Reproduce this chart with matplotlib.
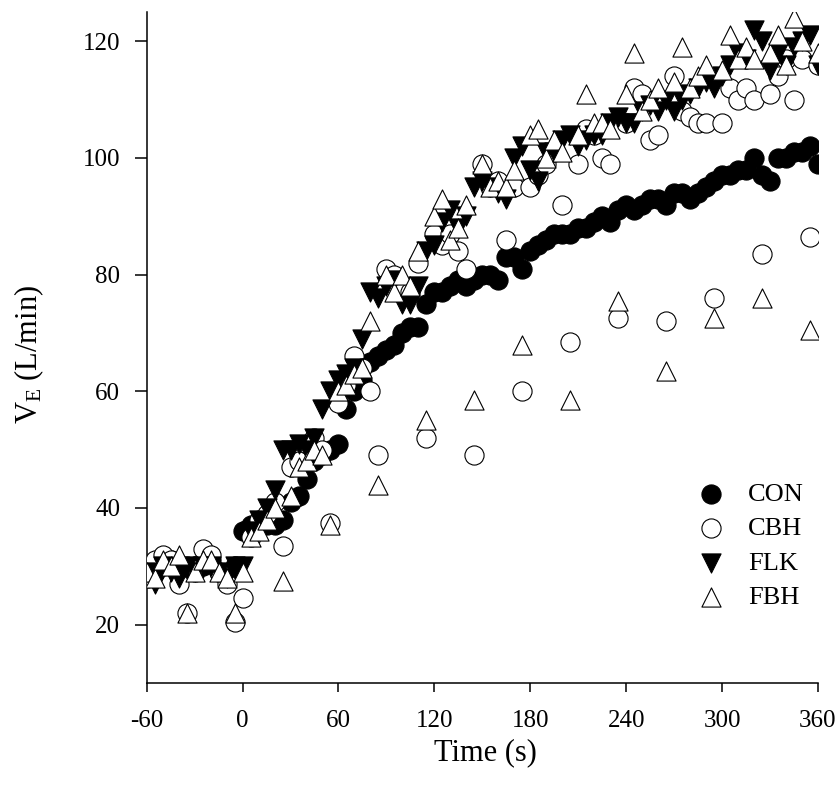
import numpy as np
import matplotlib
matplotlib.use("Agg")
import matplotlib.pyplot as plt

plt.rcParams.update({
    "font.family": "serif",
    "font.serif": ["Liberation Serif", "DejaVu Serif"],
    "mathtext.fontset": "custom",
    "mathtext.rm": "Liberation Serif",
    "mathtext.it": "Liberation Serif:italic",
    "axes.unicode_minus": False,
})

# time (s), sampled every 5 s from -60 to 360
time_s = np.arange(-60, 365, 5)

con = [30, 29, 30, 31, 29, 30, 29, 30, 31, 29, 28, 30,
       36, 37, 37, 37, 37, 38, 41, 42, 45, 48, 49, 50,
       51, 57, 60, 62, 65, 66, 67, 68, 70, 71, 71, 75,
       77, 77, 78, 79, 78, 79, 80, 80, 79, 83, 83, 81,
       84, 85, 86, 87, 87, 87, 88, 88, 89, 90, 89, 91,
       92, 91, 92, 93, 93, 92, 94, 94, 93, 94, 95, 96,
       97, 97, 98, 98, 100, 97, 96, 100, 100, 101, 101, 102,
       99]

cbh = [28, 31, 32, 31, 27, 22, 30, 33, 32, 29, 27, 20.5,
       24.5, 35, 38, 39, 41, 33.5, 47, 48, 51, 52, 50, 37.5,
       58, 61, 66, 64, 60, 49, 81, 80, 78, 77, 82, 52,
       87, 85, 87, 84, 81, 49, 99, 95, 96, 86, 95, 60,
       95, 97, 99, 101, 92, 68.5, 99, 105, 104, 100, 99, 72.5,
       106, 112, 111, 103, 104, 72, 114, 108, 107, 106, 106, 76,
       106, 112, 110, 112, 110, 83.5, 111, 114, 117, 110, 117, 86.5,
       116]

flk = [29, 27, 30, 29, 28, 30, 29, 30, 30, 29, 28, 30,
       30, 36, 38, 40, 43, 50, 50, 51, 50, 52, 57, 60,
       62, 63, 64, 69, 77, 76, 78, 79, 75, 75, 78, 84,
       85, 89, 91, 88, 90, 95, 96, 95, 94, 93, 100, 102,
       98, 96, 101, 101, 103, 104, 102, 103, 104, 104, 106, 107,
       106, 106, 108, 109, 108, 110, 108, 110, 111, 112, 113, 112,
       114, 116, 118, 117, 122, 120, 115, 118, 116, 119, 120, 121,
       116]

fbh = [29, 28, 31, 30, 32, 22, 29, 31, 31, 29, 28, 22,
       29, 35, 36, 38, 40, 27.5, 42, 47, 48, 50, 49, 37,
       60, 61, 63, 64, 72, 44, 80, 77, 80, 78, 84, 55,
       90, 93, 86, 88, 92, 58.5, 99, 95, 96, 95, 98, 68,
       104, 105, 100, 103, 101, 58.5, 104, 111, 106, 106, 105, 75.5,
       111, 118, 108, 110, 112, 63.5, 113, 119, 112, 114, 116, 72.5,
       115, 121, 117, 119, 117, 76, 118, 121, 116, 124, 120, 70.5,
       118]

xticks = [-60, 0, 60, 120, 180, 240, 300, 360]
yticks = [20, 40, 60, 80, 100, 120]

fig = plt.figure(figsize=(8.4, 7.95), dpi=100)
ax = fig.add_axes([0.1746, 0.1409, 0.7992, 0.8440])

ms = 190
ax.scatter(time_s, con, s=ms, marker="o", facecolor="black", edgecolor="black",
           linewidths=0.8, label="CON", zorder=2)
ax.scatter(time_s, cbh, s=ms, marker="o", facecolor="white", edgecolor="black",
           linewidths=0.8, label="CBH", zorder=3)
ax.scatter(time_s, flk, s=ms, marker="v", facecolor="black", edgecolor="black",
           linewidths=0.8, label="FLK", zorder=4)
ax.scatter(time_s, fbh, s=ms, marker="^", facecolor="white", edgecolor="black",
           linewidths=0.8, label="FBH", zorder=5)

ax.set_xlim(-60, 360)
ax.set_ylim(10, 125)
ax.set_xticks(xticks)
ax.set_yticks(yticks)
ax.tick_params(axis="x", labelsize=18, length=6.5, width=1.1, pad=13)
ax.tick_params(axis="y", labelsize=18, length=9, width=1.1, pad=10)
for side in ("top", "right"):
    ax.spines[side].set_visible(False)
for side in ("left", "bottom"):
    ax.spines[side].set_linewidth(1.1)

ax.set_xlabel("Time (s)", fontsize=22)
ax.xaxis.set_label_coords(0.504, -0.083)
ax.set_ylabel(r"V$_\mathrm{E}$ (L/min)", fontsize=22)
ax.yaxis.set_label_coords(-0.15, 0.49)

ax.legend(loc="upper left", bbox_to_anchor=(0.805, 0.315), frameon=False,
          fontsize=19, scatterpoints=1, handlelength=1.0, handletextpad=0.9,
          labelspacing=0.42, borderaxespad=0)

fig.savefig("out.png", dpi=100)
